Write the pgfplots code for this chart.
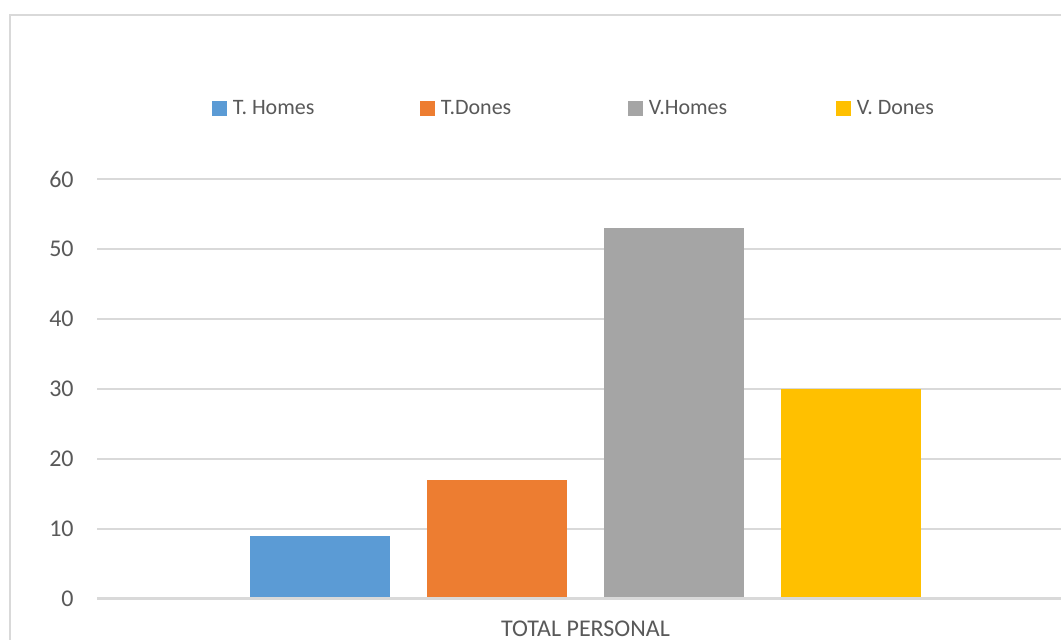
\documentclass[border=0pt]{standalone}
\usepackage{pgfplots}
\pgfplotsset{compat=1.18}
\usepackage{fontspec}
\setmainfont{Carlito}
\definecolor{gridgray}{HTML}{D9D9D9}
\definecolor{txtgray}{HTML}{595959}
\definecolor{c1}{HTML}{5B9BD5}
\definecolor{c2}{HTML}{ED7D31}
\definecolor{c3}{HTML}{A5A5A5}
\definecolor{c4}{HTML}{FFC000}
\pgfplotsset{sq legend/.style={legend image code/.code={\fill[##1] (0pt,-3.75pt) rectangle (7.5pt,3.75pt);}}}
\begin{document}
\begin{tikzpicture}
\useasboundingbox (0,0) rectangle (530.5pt,320pt);
\clip (0,0) rectangle (530.5pt,320pt);
\fill[white] (0,0) rectangle (530.5pt,320pt);
\draw[gridgray, line width=1pt] (5pt,-5pt) -- (5pt,312.5pt) -- (540pt,312.5pt);
\begin{axis}[
  at={(48.5pt,20.5pt)}, anchor=south west,
  scale only axis, width=488.5pt, height=210pt,
  ybar=18.5pt, bar width=70pt,
  xmin=-0.5, xmax=0.5, ymin=0, ymax=60,
  ytick={0,10,...,60},
  xtick={0}, xticklabels={TOTAL PERSONAL},
  /pgf/number format/assume math mode=true,
  axis line style={draw=none},
  major tick length=0pt,
  ymajorgrids, grid style={gridgray, line width=1.1pt},
  yticklabel style={anchor=east, inner sep=0pt, xshift=-11.5pt, font=\fontsize{12}{14}\selectfont, text=txtgray},
  xticklabel style={anchor=north, inner sep=0pt, yshift=-11pt, font=\fontsize{12}{14}\selectfont, text=txtgray},
  legend columns=4,
  legend cell align=left,
  legend style={draw=none, fill=none, inner sep=0pt, outer sep=0pt,
    at={(0.1177,1.1667)}, anchor=west,
    nodes={inner sep=0pt, text=txtgray, font=\fontsize{11}{13}\selectfont},
    /tikz/every odd column/.style={column sep=3pt},
    /tikz/every even column/.style={column sep=0pt}},
]
\addplot[fill=c1, draw=none, sq legend] coordinates {(0,9)};
\addlegendentry{\makebox[93.5pt][l]{T. Homes}}
\addplot[fill=c2, draw=none, sq legend] coordinates {(0,17)};
\addlegendentry{\makebox[93.5pt][l]{T.Dones}}
\addplot[fill=c3, draw=none, sq legend] coordinates {(0,53)};
\addlegendentry{\makebox[93.5pt][l]{V.Homes}}
\addplot[fill=c4, draw=none, sq legend] coordinates {(0,30)};
\addlegendentry{\makebox[93.5pt][l]{V. Dones}}
\draw[gridgray, line width=1.5pt] (axis cs:-0.5,0) -- (axis cs:0.5,0);
\end{axis}
\end{tikzpicture}
\end{document}
